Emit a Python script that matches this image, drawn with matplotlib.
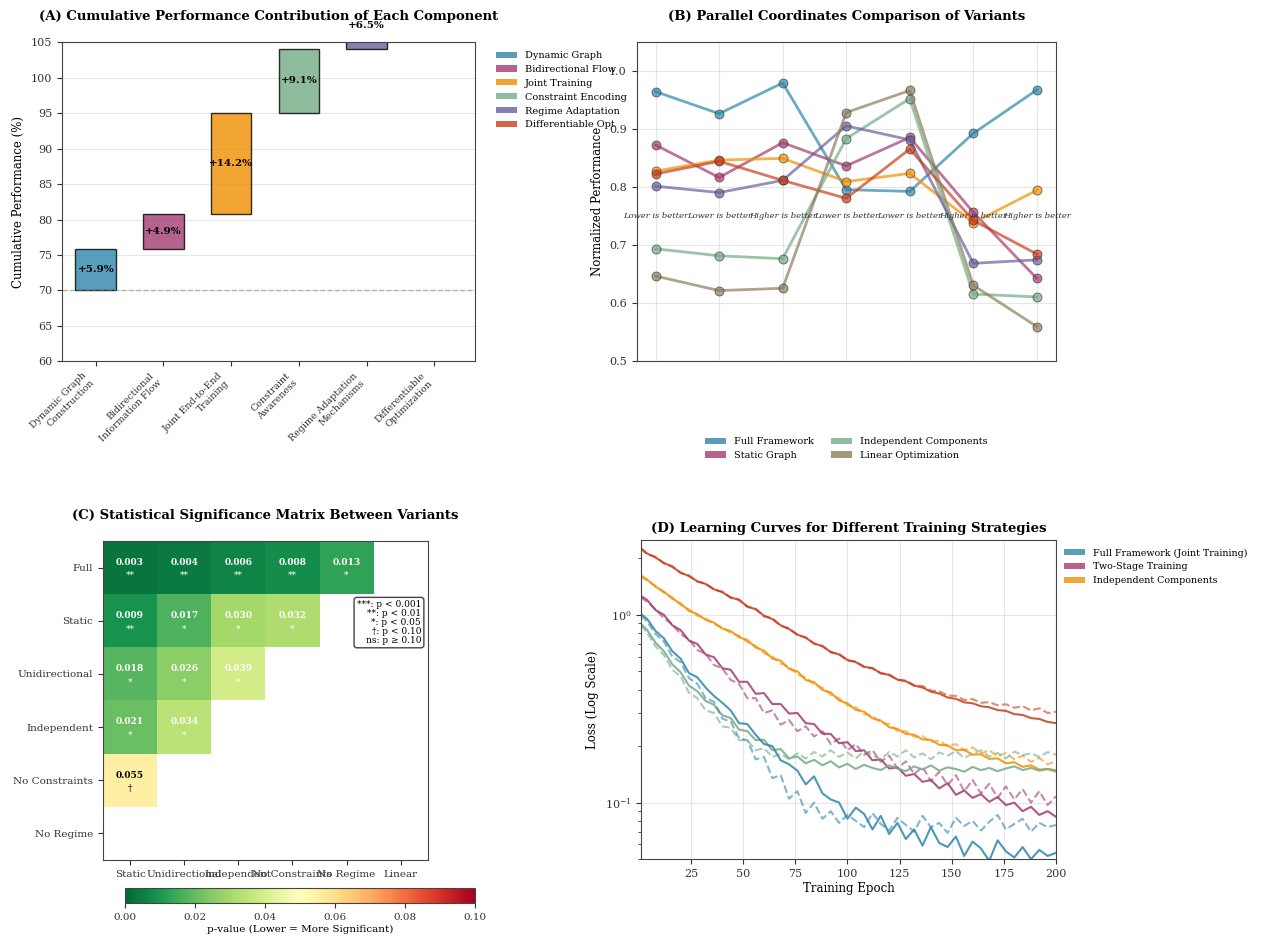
import numpy as np
import matplotlib
matplotlib.use("Agg")
import matplotlib.pyplot as plt
from matplotlib.patches import Patch

plt.rcParams['font.family'] = 'DejaVu Serif'
plt.rcParams['axes.edgecolor'] = '#444444'
plt.rcParams['xtick.color'] = '#333333'
plt.rcParams['ytick.color'] = '#333333'

# ---- (A) waterfall data
components = ['Dynamic Graph\nConstruction', 'Bidirectional\nInformation Flow',
              'Joint End-to-End\nTraining', 'Constraint\nAwareness',
              'Regime Adaptation\nMechanisms', 'Differentiable\nOptimization']
component_short = ['Dynamic Graph', 'Bidirectional Flow', 'Joint Training',
                   'Constraint Encoding', 'Regime Adaptation', 'Differentiable Opt']
contributions = [5.9, 4.9, 14.2, 9.1, 6.5, 3.8]
baseline = 70
comp_colors = ['#2E86AB', '#A23B72', '#F18F01', '#73AB84', '#6A5E9E', '#C73E1D']

# ---- (B) parallel coordinates data
variant_scores = {
    'Full Framework':         [0.965, 0.927, 0.980, 0.796, 0.793, 0.893, 0.968],
    'Static Graph':           [0.873, 0.817, 0.877, 0.837, 0.886, 0.757, 0.643],
    'Unidirectional':         [0.828, 0.847, 0.850, 0.810, 0.824, 0.739, 0.795],
    'Independent Components': [0.694, 0.682, 0.677, 0.884, 0.953, 0.616, 0.611],
    'No Constraints':         [0.802, 0.791, 0.812, 0.906, 0.882, 0.669, 0.675],
    'No Regime':              [0.823, 0.845, 0.812, 0.781, 0.866, 0.743, 0.685],
    'Linear Optimization':    [0.647, 0.622, 0.626, 0.929, 0.967, 0.631, 0.560],
}
variant_colors = ['#2E86AB', '#A23B72', '#F18F01', '#73AB84', '#6A5E9E', '#C73E1D', '#8C7E5C']
metric_notes = ['Lower is better', 'Lower is better', 'Higher is better', 'Lower is better',
                'Lower is better', 'Higher is better', 'Higher is better']
legend_variants = ['Full Framework', 'Static Graph', 'Independent Components', 'Linear Optimization']

# ---- (C) p-value matrix
row_names = ['Full', 'Static', 'Unidirectional', 'Independent', 'No Constraints', 'No Regime']
col_names = ['Static', 'Unidirectional', 'Independent', 'No Constraints', 'No Regime', 'Linear']
nan = np.nan
p_values = [
    [0.003, 0.004, 0.006, 0.008, 0.013, nan],
    [0.009, 0.017, 0.030, 0.032, nan, nan],
    [0.018, 0.026, 0.039, nan, nan, nan],
    [0.021, 0.034, nan, nan, nan, nan],
    [0.055, nan, nan, nan, nan, nan],
    [nan, nan, nan, nan, nan, nan],
]

# ---- (D) learning curves (solid = train, dashed = validation)
epochs = np.r_[1, np.arange(4, 201, 4)]
red_train = [2.25, 2.12, 2.02, 1.89, 1.80, 1.68, 1.61, 1.51, 1.46, 1.37, 1.32, 1.24, 1.20, 1.11, 1.07,
             0.99, 0.95, 0.88, 0.84, 0.785, 0.755, 0.705, 0.68, 0.635, 0.615, 0.575, 0.56, 0.53, 0.518,
             0.49, 0.478, 0.452, 0.443, 0.42, 0.41, 0.39, 0.381, 0.363, 0.357, 0.342, 0.338, 0.326,
             0.322, 0.311, 0.308, 0.296, 0.293, 0.282, 0.279, 0.269, 0.265]
red_val = [2.27, 2.10, 2.04, 1.88, 1.82, 1.67, 1.62, 1.50, 1.47, 1.36, 1.33, 1.23, 1.21, 1.10, 1.08,
           0.98, 0.96, 0.87, 0.85, 0.78, 0.76, 0.70, 0.685, 0.63, 0.62, 0.57, 0.565, 0.525, 0.522,
           0.487, 0.482, 0.45, 0.448, 0.42, 0.418, 0.395, 0.392, 0.372, 0.37, 0.352, 0.356, 0.34,
           0.343, 0.33, 0.334, 0.32, 0.326, 0.31, 0.318, 0.3, 0.305]
orange_train = [1.62, 1.54, 1.41, 1.33, 1.22, 1.15, 1.05, 1.01, 0.94, 0.91, 0.845, 0.82, 0.76, 0.735,
                0.67, 0.645, 0.585, 0.57, 0.515, 0.5, 0.45, 0.438, 0.398, 0.386, 0.35, 0.338, 0.312,
                0.305, 0.281, 0.274, 0.252, 0.247, 0.232, 0.23, 0.217, 0.216, 0.203, 0.202, 0.19,
                0.191, 0.18, 0.181, 0.171, 0.172, 0.162, 0.164, 0.155, 0.158, 0.15, 0.151, 0.146]
orange_val = [1.60, 1.52, 1.43, 1.31, 1.24, 1.13, 1.07, 0.99, 0.96, 0.89, 0.86, 0.80, 0.775, 0.715,
              0.685, 0.625, 0.60, 0.55, 0.53, 0.48, 0.465, 0.425, 0.41, 0.375, 0.36, 0.33, 0.322,
              0.296, 0.29, 0.266, 0.262, 0.24, 0.24, 0.224, 0.226, 0.21, 0.214, 0.2, 0.205, 0.19,
              0.197, 0.183, 0.19, 0.176, 0.184, 0.17, 0.178, 0.165, 0.173, 0.16, 0.166]
magenta_train = [1.26, 1.20, 1.06, 1.00, 0.88, 0.83, 0.73, 0.70, 0.615, 0.595, 0.52, 0.51, 0.44, 0.44,
                 0.38, 0.383, 0.335, 0.335, 0.298, 0.3, 0.265, 0.262, 0.233, 0.232, 0.207, 0.21,
                 0.188, 0.19, 0.168, 0.17, 0.152, 0.154, 0.139, 0.142, 0.129, 0.132, 0.119, 0.127,
                 0.11, 0.116, 0.106, 0.111, 0.101, 0.107, 0.097, 0.1, 0.09, 0.095, 0.086, 0.09, 0.084]
magenta_val = [1.24, 1.17, 1.07, 0.96, 0.89, 0.79, 0.74, 0.65, 0.62, 0.54, 0.52, 0.45, 0.43, 0.36,
               0.36, 0.30, 0.31, 0.26, 0.275, 0.24, 0.255, 0.225, 0.24, 0.205, 0.22, 0.19, 0.205,
               0.18, 0.19, 0.165, 0.178, 0.152, 0.166, 0.142, 0.155, 0.13, 0.146, 0.124, 0.14,
               0.115, 0.132, 0.112, 0.126, 0.106, 0.122, 0.104, 0.118, 0.1, 0.115, 0.097, 0.108]
green_train = [0.895, 0.83, 0.71, 0.64, 0.545, 0.495, 0.42, 0.392, 0.348, 0.332, 0.292, 0.282, 0.245,
               0.24, 0.215, 0.216, 0.19, 0.193, 0.172, 0.176, 0.162, 0.169, 0.158, 0.166, 0.154,
               0.161, 0.151, 0.159, 0.153, 0.149, 0.158, 0.152, 0.147, 0.156, 0.15, 0.158, 0.148,
               0.154, 0.151, 0.146, 0.155, 0.149, 0.153, 0.147, 0.152, 0.156, 0.149, 0.153, 0.148,
               0.151, 0.149]
green_val = [0.88, 0.80, 0.68, 0.61, 0.51, 0.47, 0.385, 0.36, 0.31, 0.30, 0.255, 0.25, 0.215, 0.215,
             0.19, 0.195, 0.175, 0.182, 0.17, 0.183, 0.172, 0.186, 0.176, 0.19, 0.175, 0.185, 0.172,
             0.188, 0.178, 0.17, 0.186, 0.176, 0.19, 0.174, 0.183, 0.17, 0.185, 0.178, 0.188, 0.173,
             0.182, 0.19, 0.176, 0.184, 0.172, 0.187, 0.179, 0.183, 0.175, 0.186, 0.18]
blue_train = [1.01, 0.95, 0.82, 0.75, 0.64, 0.585, 0.49, 0.465, 0.41, 0.37, 0.34, 0.31, 0.265, 0.262,
              0.23, 0.205, 0.2, 0.168, 0.16, 0.148, 0.125, 0.138, 0.112, 0.104, 0.1, 0.082, 0.094,
              0.087, 0.072, 0.085, 0.068, 0.078, 0.064, 0.072, 0.059, 0.074, 0.061, 0.058, 0.066,
              0.052, 0.062, 0.057, 0.049, 0.063, 0.055, 0.051, 0.058, 0.05, 0.056, 0.052, 0.054]
blue_val = [0.99, 0.92, 0.79, 0.72, 0.60, 0.56, 0.46, 0.43, 0.36, 0.345, 0.28, 0.27, 0.22, 0.215,
            0.17, 0.175, 0.135, 0.14, 0.105, 0.115, 0.088, 0.1, 0.082, 0.09, 0.078, 0.086, 0.08,
            0.074, 0.088, 0.077, 0.071, 0.083, 0.076, 0.07, 0.085, 0.074, 0.078, 0.069, 0.083,
            0.075, 0.08, 0.071, 0.079, 0.086, 0.072, 0.077, 0.082, 0.07, 0.078, 0.074, 0.076]
strategy_labels = ['Full Framework (Joint Training)', 'Two-Stage Training', 'Independent Components']

fig = plt.figure(figsize=(12.63, 9.41), dpi=100)

# ============ (A) cumulative contribution waterfall
ax1 = fig.add_axes([0.049, 0.616, 0.327, 0.339])
bottoms = baseline + np.concatenate([[0], np.cumsum(contributions)[:-1]])
x = np.arange(len(components))
ax1.bar(x, contributions, bottom=bottoms, width=0.6, color=comp_colors, alpha=0.8,
        edgecolor='black', linewidth=1)
for i, (b, c) in enumerate(zip(bottoms, contributions)):
    ax1.text(i, b + c / 2, f'+{c}%', ha='center', va='center', fontsize=7.5, fontweight='bold')
ax1.axhline(baseline, color='gray', linestyle='--', alpha=0.5, linewidth=1)
ax1.set_ylim(60, 105)
ax1.set_xlim(-0.5, 5.6)
ax1.set_xticks(x)
ax1.set_xticklabels(components, rotation=45, ha='right', fontsize=6.8)
ax1.tick_params(axis='y', labelsize=8)
ax1.set_ylabel('Cumulative Performance (%)', fontsize=8.5)
ax1.grid(axis='y', alpha=0.3)
ax1.set_axisbelow(True)
ax1.set_title('(A) Cumulative Performance Contribution of Each Component',
              fontsize=9.5, fontweight='bold', pad=16)
ax1.legend(handles=[Patch(facecolor=c, alpha=0.8, label=n) for c, n in zip(comp_colors, component_short)],
           loc='upper left', bbox_to_anchor=(1.03, 1.0), fontsize=7, frameon=False,
           handlelength=2.2, handleheight=0.6)

# ============ (B) parallel coordinates
ax2 = fig.add_axes([0.504, 0.616, 0.332, 0.339])
metric_x = np.arange(len(metric_notes))
for (name, vals), col in zip(variant_scores.items(), variant_colors):
    ax2.plot(metric_x, vals, '-o', color=col, alpha=0.7, linewidth=2, markersize=6.5,
             markeredgecolor='#333333', markeredgewidth=0.6, label=name)
for i, note in enumerate(metric_notes):
    ax2.text(i, 0.75, note, ha='center', va='center', fontsize=6, style='italic', color='#333333')
ax2.set_xticks(metric_x)
ax2.set_xticklabels([])
ax2.tick_params(axis='x', length=0)
ax2.tick_params(axis='y', labelsize=8)
ax2.set_ylim(0.5, 1.05)
ax2.set_xlim(-0.3, 6.3)
ax2.set_ylabel('Normalized Performance', fontsize=8.5)
ax2.grid(alpha=0.3)
ax2.set_title('(B) Parallel Coordinates Comparison of Variants', fontsize=9.5, fontweight='bold', pad=16)
name_to_color = dict(zip(variant_scores.keys(), variant_colors))
ax2.legend(handles=[Patch(facecolor=name_to_color[n], alpha=0.8, label=n) for n in legend_variants],
           loc='upper center', bbox_to_anchor=(0.5, -0.21), ncol=2, fontsize=7, frameon=False,
           handlelength=2.2, handleheight=0.6, columnspacing=1.8)

# ============ (C) significance matrix
ax3 = fig.add_axes([0.0816, 0.086, 0.257, 0.339])
pm = np.ma.masked_invalid(np.array(p_values))
im = ax3.imshow(pm, cmap='RdYlGn_r', vmin=0, vmax=0.1, aspect='auto')
for i in range(len(row_names)):
    for j in range(len(col_names)):
        p = p_values[i][j]
        if np.isnan(p):
            continue
        if p < 0.001:
            stars = '***'
        elif p < 0.01:
            stars = '**'
        elif p < 0.05:
            stars = '*'
        elif p < 0.1:
            stars = '†'
        else:
            stars = 'ns'
        tc = 'white' if p < 0.05 else 'black'
        ax3.text(j, i - 0.1, f'{p:.3f}', ha='center', va='center', color=tc,
                 fontsize=6.5, fontweight='bold')
        ax3.text(j, i + 0.15, stars, ha='center', va='center', color=tc, fontsize=6.5)
ax3.set_xticks(range(len(col_names)))
ax3.set_xticklabels(col_names, fontsize=7.5)
ax3.set_yticks(range(len(row_names)))
ax3.set_yticklabels(row_names, fontsize=7.5)
ax3.text(0.98, 0.815, '***: p < 0.001\n**: p < 0.01\n*: p < 0.05\n†: p < 0.10\nns: p ≥ 0.10',
         transform=ax3.transAxes, ha='right', va='top', fontsize=6.5, linespacing=1.0,
         bbox=dict(boxstyle='round,pad=0.3', facecolor='white', edgecolor='#444444'))
ax3.set_title('(C) Statistical Significance Matrix Between Variants',
              fontsize=9.5, fontweight='bold', pad=16)
cax = fig.add_axes([0.099, 0.040, 0.277, 0.016])
cb = fig.colorbar(im, cax=cax, orientation='horizontal')
cb.set_ticks([0, 0.02, 0.04, 0.06, 0.08, 0.10])
cb.ax.tick_params(labelsize=7.5)
cb.set_label('p-value (Lower = More Significant)', fontsize=7.5, labelpad=2)

# ============ (D) learning curves
ax4 = fig.add_axes([0.5075, 0.087, 0.3286, 0.339])
curves = [(red_train, red_val, '#C73E1D'), (orange_train, orange_val, '#F18F01'),
          (magenta_train, magenta_val, '#A23B72'), (green_train, green_val, '#73AB84'),
          (blue_train, blue_val, '#2E86AB')]
for tr, va, col in curves:
    ax4.plot(epochs, va, '--', color=col, alpha=0.6, linewidth=1.5)
    ax4.plot(epochs, tr, '-', color=col, alpha=0.85, linewidth=1.5)
ax4.set_yscale('log')
ax4.set_xlim(1, 200)
ax4.set_ylim(0.05, 2.5)
ax4.tick_params(labelsize=8)
ax4.set_xlabel('Training Epoch', fontsize=8.5, labelpad=2)
ax4.set_ylabel('Loss (Log Scale)', fontsize=8.5)
ax4.grid(alpha=0.3)
ax4.set_title('(D) Learning Curves for Different Training Strategies', fontsize=9.5, fontweight='bold')
ax4.legend(handles=[Patch(facecolor=c, alpha=0.8, label=n) for c, n in
                    zip(['#2E86AB', '#A23B72', '#F18F01'], strategy_labels)],
           loc='upper left', bbox_to_anchor=(1.0, 1.0), fontsize=6.8, frameon=False,
           handlelength=2.2, handleheight=0.6)

fig.savefig('out.png', dpi=100)
